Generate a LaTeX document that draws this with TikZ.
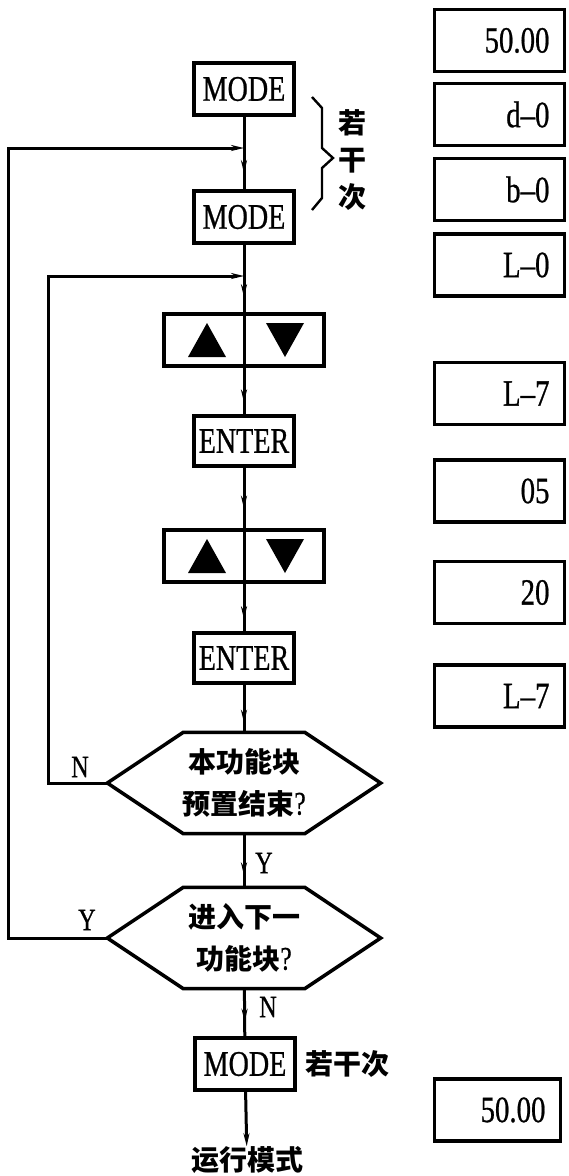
\documentclass[tikz,border=0pt]{standalone}
\usepackage{fontspec}
\setmainfont{Liberation Serif}
\newfontfamily\latf{Liberation Serif}[FakeBold=0.8]
\newfontfamily\cjk{Noto Sans CJK SC}
\usetikzlibrary{arrows.meta,decorations.markings,calc}
\newcommand{\lat}[1]{\scalebox{0.78}[1]{\latf #1}}
\newcommand{\qm}{{\normalfont\mdseries\fontsize{33}{42}\selectfont\lat{?}}}
\tikzset{
  box/.style={draw,line width=4pt,inner sep=0pt,minimum width=100pt,minimum height=52pt,font=\fontsize{36}{40}\selectfont},
  udbox/.style={draw,line width=4pt,inner sep=0pt,minimum width=160pt,minimum height=52pt},
  disp/.style={draw,line width=3.2pt,minimum width=130pt,minimum height=62pt,inner xsep=15pt,text width=100pt,align=right,font=\fontsize{37}{40}\selectfont},
  hexnode/.style={inner sep=0pt,minimum width=273pt,minimum height=101pt,align=center,font=\fontsize{28}{42}\selectfont\cjk\bfseries},
  hexline/.style={line width=3.5pt,line join=miter},
  flow/.style={line width=3pt},
  lbl/.style={font=\fontsize{31}{34}\selectfont},
  tipstyle/.tip={Stealth[length=13pt,width=6pt]},
  midarrow/.style={postaction={decorate,decoration={markings,mark=at position #1 with {\arrow{tipstyle}}}}},
  endarrow/.style={-{tipstyle}}
}
\begin{document}
\begin{tikzpicture}[x=1pt,y=-1pt]
\useasboundingbox (0,0) rectangle (569,1176);
% main column
\node[box] (mode1) at (244,89) {\lat{MODE}};
\node[box] (mode2) at (244,217) {\lat{MODE}};
\node[udbox] (ud1) at (244,340) {};
\node[box,minimum height=50pt] (ent1) at (244,441) {\lat{ENTER}};
\node[udbox] (ud2) at (244,556) {};
\node[box,minimum height=50pt] (ent2) at (244,658) {\lat{ENTER}};
\node[hexnode] (d1) at (244,783) {本功能块\\预置结束\qm};
\node[hexnode] (d2) at (244,938) {进入下一\\功能块\qm};
\node[box] (mode3) at (245,1064) {\lat{MODE}};
\node[inner sep=0pt,font=\fontsize{28}{30}\selectfont\cjk\bfseries] (run) at (247,1160) {运行模式};
% hexagons
\foreach \d in {d1,d2}{
  \draw[hexline] (\d.west) -- ([xshift=76pt]\d.north west) -- ([xshift=-76pt]\d.north east) -- (\d.east) -- ([xshift=-76pt]\d.south east) -- ([xshift=76pt]\d.south west) -- cycle;
}
% up/down keys
\foreach \u in {ud1,ud2}{
  \fill ($(\u.center)+(-56,17)$) -- ($(\u.center)+(-18,17)$) -- ($(\u.center)+(-37,-17)$) -- cycle;
  \fill ($(\u.center)+(22,-17)$) -- ($(\u.center)+(60,-17)$) -- ($(\u.center)+(41,17)$) -- cycle;
  \draw[flow] (\u.north) -- (\u.south);
}
% junctions
\coordinate (j1) at (244,148);
\coordinate (j2) at (244,276);
\coordinate (o1) at (8,148);
\coordinate (o2) at (48,276);
% vertical connectors
\draw[flow,midarrow=0.78] (mode1) -- (mode2);
\draw[flow,midarrow=0.78] (mode2) -- (ud1);
\draw[flow,midarrow=0.75] (ud1) -- (ent1);
\draw[flow,midarrow=0.68] (ent1) -- (ud2);
\draw[flow,midarrow=0.75] (ud2) -- (ent2);
\draw[flow,midarrow=0.8] (ent2) -- (d1);
\draw[flow,midarrow=0.78] (d1) -- (d2);
\draw[flow,midarrow=0.7] (d2) -- (mode3);
\draw[flow,endarrow] (mode3) -- (run);
% loops
\draw[flow,endarrow] (d1.west) -| (o2) -- (j2);
\draw[flow,endarrow] (d2.west) -| (o1) -- (j1);
% labels
\node[lbl] (ln1) at (80,767) {\lat{N}};
\node[lbl] (ly1) at (264,863) {\lat{Y}};
\node[lbl] (ly2) at (87,920) {\lat{Y}};
\node[lbl] (ln2) at (268,1007) {\lat{N}};
% brace
\draw[line width=2.4pt] (312,97) -- (322,108) -- (322,148) -- (333,158) -- (322,168) -- (322,198) -- (312,210);
\node[align=center,font=\fontsize{28}{37}\selectfont\cjk\bfseries] (times1) at (352,160) {若\\干\\次};
\node[font=\fontsize{28}{30}\selectfont\cjk\bfseries,anchor=west] (times2) at (302,1064) {若干次};
% displays
\node[disp] (s1) at (499.5,40.5) {\lat{50.00}};
\node[disp] (s2) at (499.5,114.5) {\lat{d–0}};
\node[disp] (s3) at (499.5,189.5) {\lat{b–0}};
\node[disp] (s4) at (499.5,265) {\lat{L–0}};
\node[disp] (s5) at (499.5,393.5) {\lat{L–7}};
\node[disp] (s6) at (499.5,491) {\lat{05}};
\node[disp] (s7) at (499.5,592.5) {\lat{20}};
\node[disp] (s8) at (499.5,696) {\lat{L–7}};
\node[disp,minimum width=126pt,text width=96pt] (s9) at (497.5,1110) {\lat{50.00}};
\end{tikzpicture}
\end{document}
